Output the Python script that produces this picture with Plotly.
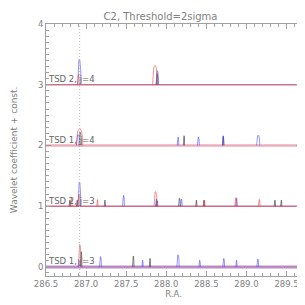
import numpy as np
import plotly.graph_objects as go

# ---------------- data ----------------
band_offsets = [0, 1, 2, 3]
band_labels = ["TSD 1, j=3", "TSD 2, j=3", "TSD 1, j=4", "TSD 2, j=4"]
marker_ra = 286.92

# peaks: (centre RA, height, half-width RA)
peaks_j3_tsd1_red = [(286.921, 0.37, 0.016)]
peaks_j3_tsd1_black = [(286.938, 0.25, 0.010), (287.588, 0.18, 0.009), (287.796, 0.14, 0.008)]
peaks_j3_tsd1_blue = [(286.909, 0.12, 0.010), (287.179, 0.17, 0.012), (287.704, 0.11, 0.008),
                      (288.146, 0.20, 0.014), (288.416, 0.11, 0.009), (288.716, 0.14, 0.011),
                      (288.875, 0.11, 0.008), (289.141, 0.13, 0.011)]

peaks_j3_tsd2_red = [(286.816, 0.15, 0.010), (286.909, 0.20, 0.012), (287.141, 0.11, 0.008),
                     (287.866, 0.24, 0.018), (288.475, 0.10, 0.008), (288.866, 0.14, 0.012),
                     (289.159, 0.11, 0.010)]
peaks_j3_tsd2_black = [(286.796, 0.10, 0.008), (286.888, 0.10, 0.008), (287.234, 0.10, 0.008),
                       (287.884, 0.09, 0.010), (288.163, 0.13, 0.010), (288.375, 0.10, 0.008),
                       (288.469, 0.10, 0.008), (289.354, 0.10, 0.008), (289.434, 0.10, 0.008)]
peaks_j3_tsd2_blue = [(286.916, 0.40, 0.016), (287.466, 0.18, 0.012), (287.875, 0.12, 0.010),
                      (288.188, 0.12, 0.010), (288.875, 0.13, 0.010)]

peaks_j4_tsd1_red = [(286.919, 0.28, 0.040)]
peaks_j4_tsd1_black = [(286.925, 0.22, 0.015), (288.221, 0.16, 0.008), (288.709, 0.15, 0.008)]
peaks_j4_tsd1_blue = [(286.900, 0.18, 0.020), (288.146, 0.14, 0.010), (288.400, 0.14, 0.012),
                      (288.709, 0.16, 0.010), (289.146, 0.17, 0.020)]

peaks_j4_tsd2_red = [(286.904, 0.17, 0.012), (287.859, 0.32, 0.030)]
peaks_j4_tsd2_black = [(287.885, 0.18, 0.010)]
peaks_j4_tsd2_blue = [(286.916, 0.42, 0.020), (287.888, 0.23, 0.015)]

bands = [
    (peaks_j3_tsd1_black, peaks_j3_tsd1_blue, peaks_j3_tsd1_red),
    (peaks_j3_tsd2_black, peaks_j3_tsd2_blue, peaks_j3_tsd2_red),
    (peaks_j4_tsd1_black, peaks_j4_tsd1_blue, peaks_j4_tsd1_red),
    (peaks_j4_tsd2_black, peaks_j4_tsd2_blue, peaks_j4_tsd2_red),
]

baseline_colors = ["rgba(175,120,185,0.85)", "rgba(200,80,115,0.85)",
                   "rgba(230,160,180,0.85)", "rgba(195,90,120,0.85)"]
baseline_widths = [3, 1.5, 2.5, 1.5]
series_colors = ["rgba(50,50,50,0.6)", "rgba(60,60,255,0.55)", "rgba(225,60,60,0.55)"]

x_min, x_max = 286.5, 289.68

fig = go.Figure()

# baselines
for off, col, w in zip(band_offsets, baseline_colors, baseline_widths):
    fig.add_trace(go.Scatter(x=[x_min, x_max], y=[off, off], mode="lines",
                             line=dict(color=col, width=w), hoverinfo="skip",
                             showlegend=False))

# peaks
t = np.linspace(-1, 1, 13)
for off, series in zip(band_offsets, bands):
    for peaks, col in zip(series, series_colors):
        xs, ys = [], []
        for c, h, hw in peaks:
            xs += list(c + hw * t) + [None]
            ys += list(off + h * np.power(1 - t ** 2, 0.45)) + [None]
        fig.add_trace(go.Scatter(x=xs, y=ys, mode="lines",
                                 line=dict(color=col, width=1), hoverinfo="skip",
                                 showlegend=False))

# dotted marker line
fig.add_shape(type="line", x0=marker_ra, x1=marker_ra, y0=0, y1=1,
              xref="x", yref="paper",
              line=dict(color="#b8b8b8", width=1, dash="1px,2px"))

# band labels
for off, lab in zip(band_offsets, band_labels):
    fig.add_annotation(x=0, xref="paper", y=off + 0.09, yref="y", text=lab,
                       showarrow=False, xanchor="left", yanchor="middle",
                       font=dict(size=8.5, color="#666666", family="DejaVu Sans"))

# y-axis title as a rotated annotation
fig.add_annotation(x=-0.125, xref="paper", y=0.5, yref="paper",
                   text="Wavelet coefficient + const.", textangle=-90,
                   showarrow=False, xanchor="center", yanchor="middle",
                   font=dict(size=9, color="#808080", family="DejaVu Sans"))

axis_common = dict(showline=True, linecolor="#a0a0a0", linewidth=1, mirror="ticks",
                   ticks="inside", ticklen=5, tickcolor="#a0a0a0",
                   showgrid=False, zeroline=False,
                   tickfont=dict(size=8.5, color="#808080", family="DejaVu Sans"))

fig.update_xaxes(range=[x_min, x_max], tick0=286.5, dtick=0.5, tickformat=".1f",
                 minor=dict(ticks="inside", ticklen=3, dtick=0.1, tickcolor="#a0a0a0"),
                 title=dict(text="R.A.", font=dict(size=8.5, color="#808080",
                                                   family="DejaVu Sans"), standoff=2),
                 **axis_common)
fig.update_yaxes(range=[-0.15, 4.0], tick0=0, dtick=1,
                 minor=dict(ticks="inside", ticklen=3, dtick=0.1, tickcolor="#a0a0a0"),
                 **axis_common)

fig.update_layout(
    width=305, height=305,
    margin=dict(l=38, r=12, t=16, b=37),
    paper_bgcolor="white", plot_bgcolor="white",
    title=dict(text="C2, Threshold=2sigma", x=0.5, xanchor="center",
               y=0.985, yanchor="top",
               font=dict(size=10, color="#808080", family="DejaVu Sans")),
    showlegend=False,
)

fig.write_html("out.html")
